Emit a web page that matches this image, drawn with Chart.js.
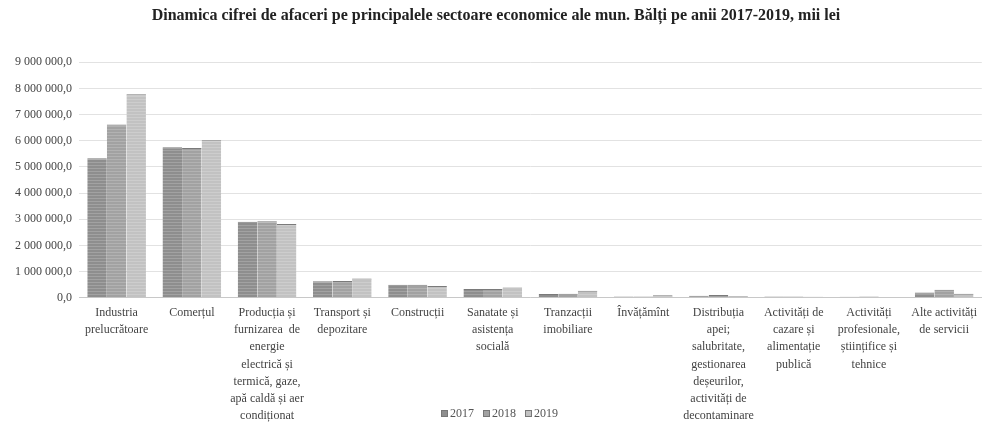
<!DOCTYPE html>
<html>
<head>
<meta charset="utf-8">
<script src="https://cdn.jsdelivr.net/npm/chart.js@4/dist/chart.umd.min.js"></script>
<style>
  html, body { margin: 0; padding: 0; background: #fff; }
  #wrap { position: relative; width: 984px; height: 427px; }
  #legend {
    position: absolute; left: 441px; top: 406px;
    font: 12px "Liberation Serif", serif; color: #555; white-space: nowrap;
  }
  #legend span { margin-right: 9px; }
  #legend i {
    display: inline-block; width: 7px; height: 7px; margin-right: 2px;
    vertical-align: 0px; border: 1px solid #777; box-sizing: border-box;
  }
</style>
</head>
<body>
<div id="wrap">
  <canvas id="chart" width="984" height="427"></canvas>
  <div id="legend"></div>
</div>
<script>
const categories = [
  ["Industria", "prelucrătoare"],
  ["Comerțul"],
  ["Producția și", "furnizarea  de", "energie", "electrică și", "termică, gaze,", "apă caldă și aer", "condiționat"],
  ["Transport și", "depozitare"],
  ["Construcții"],
  ["Sanatate și", "asistența", "socială"],
  ["Tranzacții", "imobiliare"],
  ["Învățămînt"],
  ["Distribuția", "apei;", "salubritate,", "gestionarea", "deșeurilor,", "activități de", "decontaminare"],
  ["Activități de", "cazare și", "alimentație", "publică"],
  ["Activități", "profesionale,", "științifice și", "tehnice"],
  ["Alte activități", "de servicii"]
];

const years = ["2017", "2018", "2019"];

const values2017 = [5330000, 5750000, 2900000, 630000, 500000, 330000, 140000, 50000, 80000, 50000, 40000, 200000];
const values2018 = [6620000, 5720000, 2920000, 640000, 500000, 330000, 150000, 50000, 100000, 50000, 50000, 300000];
const values2019 = [7780000, 6020000, 2820000, 730000, 450000, 390000, 270000, 90000, 70000, 40000, 30000, 150000];

const colors = ["#8e8e8e", "#a2a2a2", "#c2c2c2"];

function hatch(base) {
  const c = document.createElement("canvas");
  c.width = 6; c.height = 3;
  const g = c.getContext("2d");
  g.fillStyle = base;
  g.fillRect(0, 0, 6, 3);
  g.fillStyle = "rgba(255,255,255,0.18)";
  g.fillRect(0, 0, 6, 1);
  return g.createPattern(c, "repeat");
}

function fmt(v) {
  const s = Math.round(v).toString().replace(/\B(?=(\d{3})+(?!\d))/g, " ");
  return s + ",0";
}

const series = [values2017, values2018, values2019];

const legendEl = document.getElementById("legend");
legendEl.innerHTML = years
  .map((y, i) => `<span><i style="background:${colors[i]}"></i>${y}</span>`)
  .join("");

new Chart(document.getElementById("chart"), {
  type: "bar",
  data: {
    labels: categories,
    datasets: series.map((vals, i) => ({
      label: years[i],
      data: vals,
      backgroundColor: hatch(colors[i]),
      borderColor: "#7a7a7a",
      borderWidth: { top: 1, left: 0, right: 0, bottom: 0 },
      categoryPercentage: 0.78,
      barPercentage: 1.0
    }))
  },
  options: {
    responsive: false,
    animation: false,
    layout: { padding: { left: 8, right: 0, top: 6, bottom: -4 } },
    plugins: {
      legend: { display: false },
      tooltip: { enabled: false },
      title: {
        display: true,
        text: "Dinamica cifrei de afaceri pe principalele sectoare economice ale mun. Bălți pe anii 2017-2019, mii lei",
        color: "#222",
        font: { family: "Liberation Serif", size: 16, weight: "bold" },
        padding: { top: 0, bottom: 37 }
      }
    },
    scales: {
      x: {
        grid: { display: false, drawTicks: false },
        border: { color: "#c8c8c8" },
        ticks: {
          color: "#444",
          maxRotation: 0,
          autoSkip: false,
          padding: 7,
          font: { family: "Liberation Serif", size: 12, lineHeight: 1.42 }
        }
      },
      y: {
        min: 0,
        max: 9000000,
        grid: { color: "#e2e2e2", drawTicks: false },
        border: { display: false },
        ticks: {
          stepSize: 1000000,
          color: "#444",
          padding: 7,
          font: { family: "Liberation Serif", size: 12 },
          callback: (v) => fmt(v)
        }
      }
    }
  }
});
</script>
</body>
</html>
